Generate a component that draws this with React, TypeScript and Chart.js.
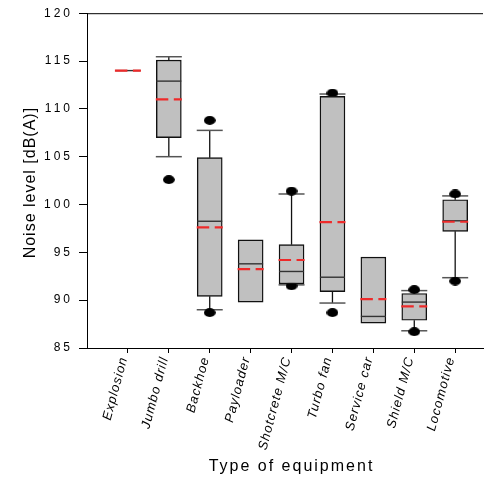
import { useEffect, useRef } from 'react';
import { Chart, registerables } from 'chart.js';

Chart.register(...registerables);

const categories = ['Explosion', 'Jumbo drill', 'Backhoe', 'Payloader', 'Shotcrete M/C', 'Turbo fan', 'Service car', 'Shield M/C', 'Locomotive'];
const q1 = [114.0, 107.0, 90.4, 89.8, 91.7, 90.9, 87.6, 87.9, 97.2];
const q3 = [114.0, 115.1, 104.9, 96.3, 95.8, 111.3, 94.5, 90.7, 100.5];
const median = [114.0, 112.9, 98.25, 93.8, 93.0, 92.4, 88.3, 89.8, 98.3];
const mean = [114.0, 111.0, 97.6, 93.25, 94.2, 98.15, 90.1, 89.35, 98.2];
const whiskerLow: (number | null)[] = [null, 105.0, 89.0, null, 91.6, 89.7, null, 86.8, 92.35];
const whiskerHigh: (number | null)[] = [null, 115.45, 107.75, null, 101.1, 111.55, null, 91.0, 100.9];
const outlierCategory = [2, 3, 3, 5, 5, 6, 6, 8, 8, 9, 9];
const outlierValue = [102.6, 108.8, 88.7, 101.4, 91.5, 111.65, 88.7, 91.1, 86.7, 101.1, 92.0];
const yTicks = [85, 90, 95, 100, 105, 110, 115, 120];

const FONT = "'Liberation Sans', Arial, sans-serif";

function makeDot(): HTMLCanvasElement {
  const c = document.createElement('canvas');
  c.width = 12;
  c.height = 9;
  const g = c.getContext('2d')!;
  g.fillStyle = '#000';
  g.beginPath();
  g.ellipse(6, 4.5, 5.9, 4.4, 0, 0, Math.PI * 2);
  g.fill();
  return c;
}

function patchLabels(scale: any, spacing: string) {
  if (!scale || scale.__patched) return;
  const orig = scale.drawLabels.bind(scale);
  scale.drawLabels = (ca: any) => {
    const c = scale.ctx;
    const prev = c.letterSpacing;
    c.letterSpacing = spacing;
    orig(ca);
    c.letterSpacing = prev;
  };
  scale.__patched = true;
}

const boxPlugin = {
  id: 'boxParts',
  beforeDraw(chart: any) {
    patchLabels(chart.scales.y, '3px');
    patchLabels(chart.scales.x, '1px');
  },
  beforeDatasetsDraw(chart: any) {
    const { ctx, scales } = chart;
    const x = scales.x, y = scales.y;
    ctx.save();
    categories.forEach((_, i) => {
      const cx = x.getPixelForValue(i + 1);
      const half = 13;
      const pairs: [number | null, number][] = [
        [whiskerHigh[i], q3[i]],
        [whiskerLow[i], q1[i]],
      ];
      pairs.forEach(([w, edge]) => {
        if (w == null) return;
        const wy = y.getPixelForValue(w);
        const ey = y.getPixelForValue(edge);
        ctx.strokeStyle = '#111';
        ctx.lineWidth = 1.3;
        ctx.beginPath();
        ctx.moveTo(cx, ey);
        ctx.lineTo(cx, wy);
        ctx.stroke();
        ctx.strokeStyle = '#555';
        ctx.lineWidth = 1.5;
        ctx.beginPath();
        ctx.moveTo(cx - half, wy);
        ctx.lineTo(cx + half, wy);
        ctx.stroke();
      });
    });
    ctx.restore();
  },
  afterDatasetsDraw(chart: any) {
    const { ctx, scales } = chart;
    const x = scales.x, y = scales.y;
    ctx.save();
    categories.forEach((_, i) => {
      const cx = x.getPixelForValue(i + 1);
      const half = 12.5;
      const my = y.getPixelForValue(median[i]);
      ctx.strokeStyle = '#333';
      ctx.lineWidth = 1.4;
      ctx.setLineDash([]);
      ctx.beginPath();
      ctx.moveTo(cx - half, my);
      ctx.lineTo(cx + half, my);
      ctx.stroke();
      const ay = y.getPixelForValue(mean[i]);
      ctx.strokeStyle = '#ee2a2a';
      ctx.lineWidth = 2.2;
      ctx.setLineDash([12.5, 5.5]);
      ctx.beginPath();
      ctx.moveTo(cx - 13, ay);
      ctx.lineTo(cx + 13, ay);
      ctx.stroke();
    });
    ctx.restore();
  },
  afterDraw(chart: any) {
    const { ctx, chartArea } = chart;
    ctx.save();
    ctx.strokeStyle = '#000';
    ctx.lineWidth = 1;
    ctx.beginPath();
    ctx.moveTo(chartArea.left, chartArea.top + 0.5);
    ctx.lineTo(chartArea.right, chartArea.top + 0.5);
    ctx.stroke();
    ctx.fillStyle = '#000';
    ctx.font = `16px ${FONT}`;
    (ctx as any).letterSpacing = '2px';
    ctx.textAlign = 'center';
    ctx.textBaseline = 'alphabetic';
    ctx.fillText('Type of equipment', (chartArea.left + chartArea.right) / 2 + 6.5, 470.5);
    (ctx as any).letterSpacing = '1px';
    ctx.translate(35, (chartArea.top + chartArea.bottom) / 2 + 2);
    ctx.rotate(-Math.PI / 2);
    ctx.fillText('Noise level [dB(A)]', 0, 0);
    ctx.restore();
  },
};

export default function App() {
  const ref = useRef<HTMLCanvasElement>(null);
  useEffect(() => {
    document.body.style.margin = '0';
    const dot = makeDot();
    const chart = new Chart(ref.current!, {
      type: 'bar',
      data: {
        datasets: [
          {
            type: 'bar',
            data: categories.map((_, i) => ({ x: i + 1, y: i === 0 ? null : [q1[i], q3[i]] })) as any,
            backgroundColor: '#c0c0c0',
            borderColor: '#111',
            borderWidth: 1.4,
            borderSkipped: false,
            barThickness: 25,
          },
          {
            type: 'scatter',
            data: outlierCategory.map((c, i) => ({ x: c, y: outlierValue[i] })),
            pointStyle: dot as any,
            pointRadius: 6,
            backgroundColor: '#000',
            borderColor: '#000',
          },
        ],
      },
      options: {
        responsive: false,
        animation: false,
        events: [],
        layout: { padding: { left: 0, right: 10, top: 10, bottom: 0 } },
        plugins: { legend: { display: false }, tooltip: { enabled: false } },
        scales: {
          x: {
            type: 'linear',
            min: 0,
            max: 9.68,
            offset: false,
            grid: { offset: false, drawOnChartArea: false, drawTicks: true, tickLength: 5, color: '#000', lineWidth: 1 },
            border: { display: true, color: '#000', width: 1 },
            afterBuildTicks: (scale: any) => {
              scale.ticks = categories.map((_, i) => ({ value: i + 1 }));
            },
            afterFit: (scale: any) => {
              scale.height = 131;
            },
            ticks: {
              autoSkip: false,
              minRotation: 75,
              maxRotation: 75,
              padding: 2,
              labelOffset: -4,
              color: '#000',
              font: { family: FONT, size: 13, style: 'italic' },
              callback: (v: any) => categories[Math.round(Number(v)) - 1] ?? '',
            },
          },
          y: {
            type: 'linear',
            min: 85,
            max: 120,
            beginAtZero: false,
            grid: { drawOnChartArea: false, drawTicks: true, tickLength: 8, color: '#000', lineWidth: 1 },
            border: { display: true, color: '#000', width: 1 },
            afterBuildTicks: (scale: any) => {
              scale.ticks = yTicks.map((v) => ({ value: v }));
            },
            afterFit: (scale: any) => {
              scale.width = 87;
            },
            ticks: {
              padding: 6,
              color: '#000',
              font: { family: FONT, size: 12 },
            },
          },
        },
      },
      plugins: [boxPlugin],
    });
    return () => chart.destroy();
  }, []);
  return (
    <div style={{ width: 493, height: 479 }}>
      <canvas ref={ref} width={493} height={479} style={{ width: 493, height: 479, display: 'block' }} />
    </div>
  );
}
